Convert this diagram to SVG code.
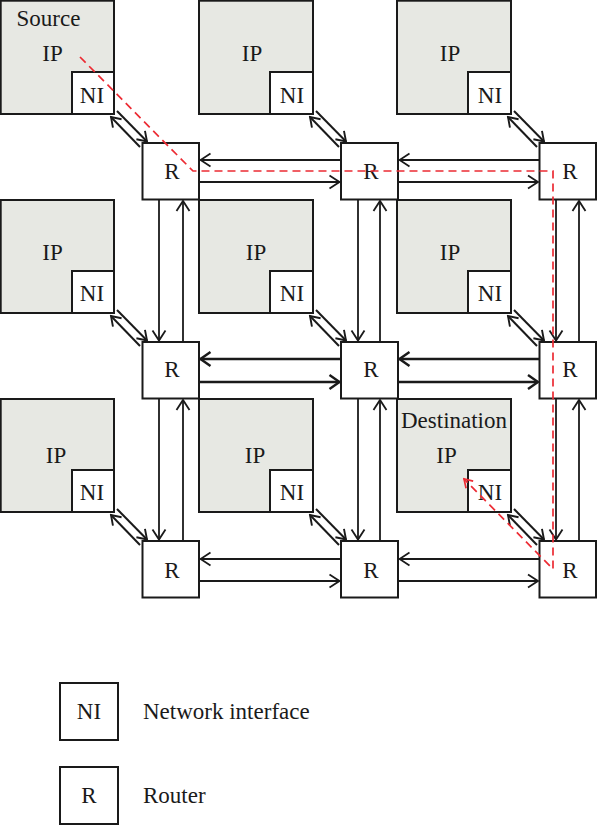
<svg xmlns="http://www.w3.org/2000/svg" width="597" height="825" viewBox="0 0 597 825">
<style>
.ip{fill:#e7e8e3;stroke:#1a1a1a;stroke-width:2}
.bx{fill:#ffffff;stroke:#1a1a1a;stroke-width:2}
.t{font-family:"Liberation Serif","Times New Roman",serif;font-size:23px;fill:#1a1a1a}
.m{text-anchor:middle}
.c{fill:none;stroke:#1a1a1a;stroke-width:1.8}
.cb{fill:none;stroke:#1a1a1a;stroke-width:2.4}
.d{fill:none;stroke:#1a1a1a;stroke-width:2}
.red{fill:none;stroke:#ec2b33;stroke-width:1.7;stroke-dasharray:8 5}
</style>
<defs>
<marker id="a" viewBox="-13 -9 15 18" refX="0" refY="0" markerWidth="15" markerHeight="18" markerUnits="userSpaceOnUse" orient="auto"><path d="M-10,-6.5 L0,0 L-10,6.5" fill="none" stroke="#1a1a1a" stroke-width="1.8"/></marker>
<marker id="ab" viewBox="-13 -9 15 18" refX="0" refY="0" markerWidth="15" markerHeight="18" markerUnits="userSpaceOnUse" orient="auto"><path d="M-10,-7 L0,0 L-10,7" fill="none" stroke="#1a1a1a" stroke-width="2.4"/></marker>
<marker id="as" viewBox="-12 -8 14 16" refX="0" refY="0" markerWidth="14" markerHeight="16" markerUnits="userSpaceOnUse" orient="auto"><path d="M-9,-6 L0,0 L-9,6" fill="none" stroke="#1a1a1a" stroke-width="1.9"/></marker>
<marker id="ar" viewBox="-11 -7 13 14" refX="0" refY="0" markerWidth="13" markerHeight="14" markerUnits="userSpaceOnUse" orient="auto"><path d="M-8,-5 L0,0 L-8,5" fill="none" stroke="#ec2b33" stroke-width="1.7"/></marker>
</defs>

<!-- IP nodes -->
<g id="ip11"><rect class="ip" x="0.7" y="0.7" width="113.3" height="113.3"/><text class="t m" x="48.5" y="26">Source</text><text class="t m" x="52.5" y="61">IP</text></g>
<g id="ip12"><rect class="ip" x="199" y="0.7" width="114" height="113.3"/><text class="t m" x="252" y="61">IP</text></g>
<g id="ip13"><rect class="ip" x="397" y="0.7" width="114" height="113.3"/><text class="t m" x="450" y="61">IP</text></g>
<g id="ip21"><rect class="ip" x="0.7" y="200" width="113.3" height="113"/><text class="t m" x="52.5" y="260">IP</text></g>
<g id="ip22"><rect class="ip" x="199" y="200" width="114" height="113"/><text class="t m" x="256" y="260">IP</text></g>
<g id="ip23"><rect class="ip" x="397" y="200" width="114" height="113"/><text class="t m" x="450" y="260">IP</text></g>
<g id="ip31"><rect class="ip" x="0.7" y="399" width="113.3" height="113"/><text class="t m" x="56" y="463">IP</text></g>
<g id="ip32"><rect class="ip" x="199" y="399" width="114" height="113"/><text class="t m" x="255" y="463">IP</text></g>
<g id="ip33"><rect class="ip" x="397" y="399" width="114" height="113"/><text class="t m" x="454" y="428">Destination</text><text class="t m" x="446.5" y="463">IP</text></g>

<!-- NI nodes -->
<g id="ni11"><rect class="bx" x="72" y="72" width="42" height="42"/><text class="t m" x="92" y="103">NI</text></g>
<g id="ni12"><rect class="bx" x="270" y="72" width="43" height="42"/><text class="t m" x="292" y="103">NI</text></g>
<g id="ni13"><rect class="bx" x="468" y="72" width="43" height="42"/><text class="t m" x="490" y="103">NI</text></g>
<g id="ni21"><rect class="bx" x="72" y="271" width="42" height="42"/><text class="t m" x="92" y="301">NI</text></g>
<g id="ni22"><rect class="bx" x="270" y="271" width="43" height="42"/><text class="t m" x="292" y="301">NI</text></g>
<g id="ni23"><rect class="bx" x="468" y="271" width="43" height="42"/><text class="t m" x="490" y="301">NI</text></g>
<g id="ni31"><rect class="bx" x="72" y="470" width="42" height="42"/><text class="t m" x="92" y="500">NI</text></g>
<g id="ni32"><rect class="bx" x="270" y="470" width="43" height="42"/><text class="t m" x="292" y="500">NI</text></g>
<g id="ni33"><rect class="bx" x="468" y="470" width="43" height="42"/><text class="t m" x="490" y="500">NI</text></g>

<!-- Routers -->
<g id="r11"><rect class="bx" x="142.5" y="143" width="56.5" height="56.5"/><text class="t m" x="172" y="179">R</text></g>
<g id="r12"><rect class="bx" x="341" y="143" width="57" height="56.5"/><text class="t m" x="371" y="179">R</text></g>
<g id="r13"><rect class="bx" x="539.5" y="143" width="56.5" height="56.5"/><text class="t m" x="570" y="179">R</text></g>
<g id="r21"><rect class="bx" x="142.5" y="342" width="56.5" height="56.5"/><text class="t m" x="172" y="377">R</text></g>
<g id="r22"><rect class="bx" x="341" y="342" width="57" height="56.5"/><text class="t m" x="371" y="377">R</text></g>
<g id="r23"><rect class="bx" x="539.5" y="342" width="56.5" height="56.5"/><text class="t m" x="570" y="377">R</text></g>
<g id="r31"><rect class="bx" x="142.5" y="541" width="56.5" height="56.5"/><text class="t m" x="172" y="578">R</text></g>
<g id="r32"><rect class="bx" x="341" y="541" width="57" height="56.5"/><text class="t m" x="371" y="578">R</text></g>
<g id="r33"><rect class="bx" x="539.5" y="541" width="56.5" height="56.5"/><text class="t m" x="570" y="578">R</text></g>

<!-- Connectors -->
<g id="connectors">
<path class="c" d="M341,160 L200.5,160" marker-end="url(#a)"/>
<path class="c" d="M199,182 L339.5,182" marker-end="url(#a)"/>
<path class="c" d="M539.5,160 L399.5,160" marker-end="url(#a)"/>
<path class="c" d="M398,182 L538,182" marker-end="url(#a)"/>
<path class="cb" d="M341,359 L200.5,359" marker-end="url(#ab)"/>
<path class="cb" d="M199,382 L339.5,382" marker-end="url(#ab)"/>
<path class="cb" d="M539.5,359 L399.5,359" marker-end="url(#ab)"/>
<path class="cb" d="M398,382 L538,382" marker-end="url(#ab)"/>
<path class="c" d="M341,559 L200.5,559" marker-end="url(#a)"/>
<path class="c" d="M199,581 L339.5,581" marker-end="url(#a)"/>
<path class="c" d="M539.5,559 L399.5,559" marker-end="url(#a)"/>
<path class="c" d="M398,581 L538,581" marker-end="url(#a)"/>
<path class="c" d="M159,199.5 L159,340.5" marker-end="url(#a)"/>
<path class="c" d="M183,342 L183,201" marker-end="url(#a)"/>
<path class="c" d="M159,398.5 L159,539.5" marker-end="url(#a)"/>
<path class="c" d="M183,541 L183,400" marker-end="url(#a)"/>
<path class="c" d="M358,199.5 L358,340.5" marker-end="url(#a)"/>
<path class="c" d="M380,342 L380,201" marker-end="url(#a)"/>
<path class="c" d="M358,398.5 L358,539.5" marker-end="url(#a)"/>
<path class="c" d="M380,541 L380,400" marker-end="url(#a)"/>
<path class="c" d="M556,199.5 L556,340.5" marker-end="url(#a)"/>
<path class="c" d="M579,342 L579,201" marker-end="url(#a)"/>
<path class="c" d="M556,398.5 L556,539.5" marker-end="url(#a)"/>
<path class="c" d="M579,541 L579,400" marker-end="url(#a)"/>
<path class="d" d="M117,111 L147,141.5" marker-end="url(#as)"/>
<path class="d" d="M140,147 L111,117" marker-end="url(#as)"/>
<path class="d" d="M316,111 L346,141.5" marker-end="url(#as)"/>
<path class="d" d="M339,147 L310,117" marker-end="url(#as)"/>
<path class="d" d="M514,111 L544,141.5" marker-end="url(#as)"/>
<path class="d" d="M537,147 L508,117" marker-end="url(#as)"/>
<path class="d" d="M117,310 L147,340.5" marker-end="url(#as)"/>
<path class="d" d="M140,346 L111,316" marker-end="url(#as)"/>
<path class="d" d="M316,310 L346,340.5" marker-end="url(#as)"/>
<path class="d" d="M339,346 L310,316" marker-end="url(#as)"/>
<path class="d" d="M514,310 L544,340.5" marker-end="url(#as)"/>
<path class="d" d="M537,346 L508,316" marker-end="url(#as)"/>
<path class="d" d="M117,509 L147,539.5" marker-end="url(#as)"/>
<path class="d" d="M140,545 L111,515" marker-end="url(#as)"/>
<path class="d" d="M316,509 L346,539.5" marker-end="url(#as)"/>
<path class="d" d="M339,545 L310,515" marker-end="url(#as)"/>
<path class="d" d="M514,509 L544,539.5" marker-end="url(#as)"/>
<path class="d" d="M537,545 L508,515" marker-end="url(#as)"/>
<path class="red" d="M80,57 L193,171 L553,171 L553,569 L464,479" marker-end="url(#ar)"/>
</g>

<!-- Legend -->
<g id="legend-ni"><rect class="bx" x="60" y="683" width="58" height="57"/><text class="t m" x="89" y="719">NI</text><text class="t" x="143" y="719">Network interface</text></g>
<g id="legend-r"><rect class="bx" x="60" y="767" width="58" height="57"/><text class="t m" x="89" y="803">R</text><text class="t" x="143" y="803">Router</text></g>
</svg>
